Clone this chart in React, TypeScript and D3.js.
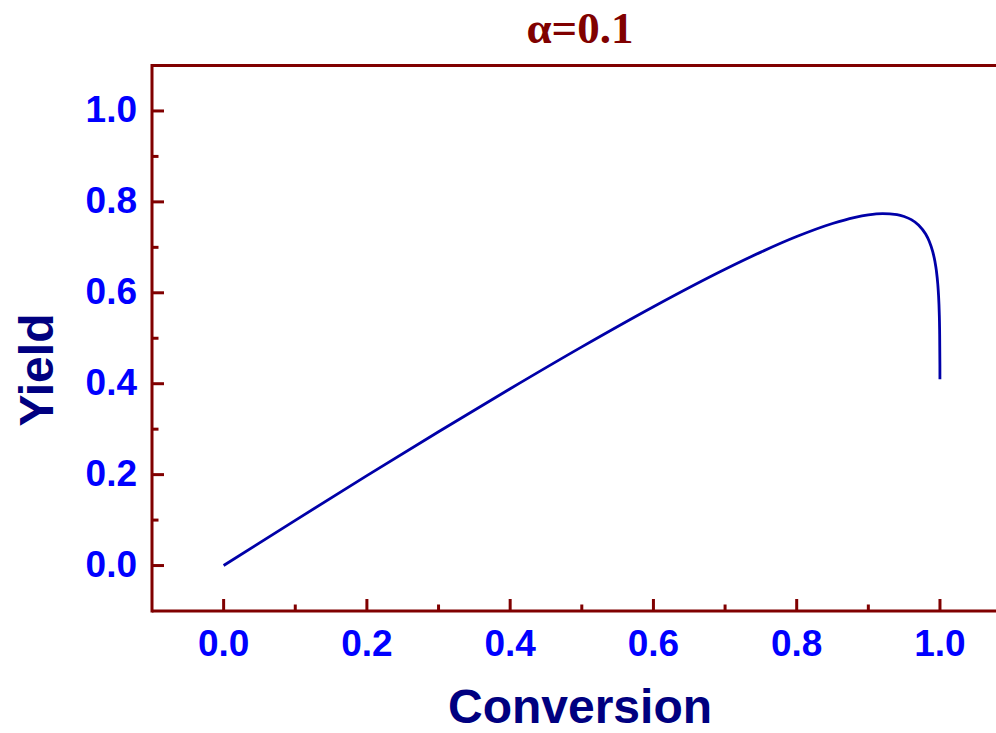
import React from "react";
import * as d3 from "d3";

const conversion = [0, 0.1, 0.2, 0.3, 0.4, 0.5, 0.6, 0.7, 0.75, 0.8, 0.85, 0.88, 0.9, 0.92, 0.94, 0.95, 0.96, 0.97, 0.98, 0.985, 0.99, 0.993, 0.995, 0.997, 0.998, 0.999, 0.9995, 0.9999, 0.99995];
const yieldValues = [0, 0.0995, 0.1977, 0.2944, 0.389, 0.4811, 0.5694, 0.6518, 0.6895, 0.7237, 0.7524, 0.7655, 0.7715, 0.7742, 0.772, 0.7679, 0.7609, 0.7492, 0.7292, 0.7134, 0.69, 0.6687, 0.6486, 0.6182, 0.5946, 0.5558, 0.519, 0.4422, 0.41];
const xTicks = [0, 0.2, 0.4, 0.6, 0.8, 1.0];
const yTicks = [0, 0.2, 0.4, 0.6, 0.8, 1.0];
const xMinor = [0.1, 0.3, 0.5, 0.7, 0.9];
const yMinor = [0.1, 0.3, 0.5, 0.7, 0.9];
const title = "α=0.1";
const xTitle = "Conversion";
const yTitle = "Yield";

export default function App() {
  const W = 996, H = 733;
  const left = 152, right = 1011.6, top = 65.5, bottom = 611;
  const x = d3.scaleLinear().domain([-0.1, 1.1]).range([left, right]);
  const y = d3.scaleLinear().domain([-0.1, 1.1]).range([bottom, top]);
  const pts = conversion.map((c, i) => [c, yieldValues[i]] as [number, number]);
  const line = d3.line<[number, number]>().x(d => x(d[0])).y(d => y(d[1])).curve(d3.curveMonotoneX);
  const axisColor = "#800000";
  const fmt = d3.format(".1f");
  return (
    <svg width={W} height={H} style={{ position: "absolute", left: 0, top: 0 }}>
      <rect width={W} height={H} fill="#fff" />
      <text x={580} y={43} textAnchor="middle" fontFamily="'Liberation Serif', 'Times New Roman', serif" fontWeight="bold" fontSize={45} fill="#800000">{title}</text>
      <path d={line(pts) || ""} fill="none" stroke="#0000A8" strokeWidth={2.8} />
      <line x1={left} x2={W} y1={top} y2={top} stroke={axisColor} strokeWidth={3} />
      <line x1={left} x2={W} y1={bottom} y2={bottom} stroke={axisColor} strokeWidth={3} />
      <line x1={left} x2={left} y1={top - 1.5} y2={bottom + 1.5} stroke={axisColor} strokeWidth={3} />
      {xTicks.map(t => (
        <g key={"xt" + t}>
          <line x1={x(t)} x2={x(t)} y1={bottom} y2={bottom - 12} stroke={axisColor} strokeWidth={3} />
          <text x={x(t)} y={656} textAnchor="middle" fontFamily="Arial, 'Liberation Sans', sans-serif" fontWeight="bold" fontSize={37} fill="#0000FF">{fmt(t)}</text>
        </g>
      ))}
      {xMinor.map(t => (
        <line key={"xm" + t} x1={x(t)} x2={x(t)} y1={bottom} y2={bottom - 6.5} stroke={axisColor} strokeWidth={3} />
      ))}
      {yTicks.map(t => (
        <g key={"yt" + t}>
          <line x1={left} x2={left + 12} y1={y(t)} y2={y(t)} stroke={axisColor} strokeWidth={3} />
          <text x={137} y={y(t) + 11.5} textAnchor="end" fontFamily="Arial, 'Liberation Sans', sans-serif" fontWeight="bold" fontSize={37} fill="#0000FF">{fmt(t)}</text>
        </g>
      ))}
      {yMinor.map(t => (
        <line key={"ym" + t} x1={left} x2={left + 6.5} y1={y(t)} y2={y(t)} stroke={axisColor} strokeWidth={3} />
      ))}
      <text x={580} y={723} textAnchor="middle" fontFamily="Arial, 'Liberation Sans', sans-serif" fontWeight="bold" fontSize={48} fill="#000080">{xTitle}</text>
      <text transform="translate(53,370) rotate(-90)" textAnchor="middle" fontFamily="Arial, 'Liberation Sans', sans-serif" fontWeight="bold" fontSize={48} fill="#000080">{yTitle}</text>
    </svg>
  );
}
